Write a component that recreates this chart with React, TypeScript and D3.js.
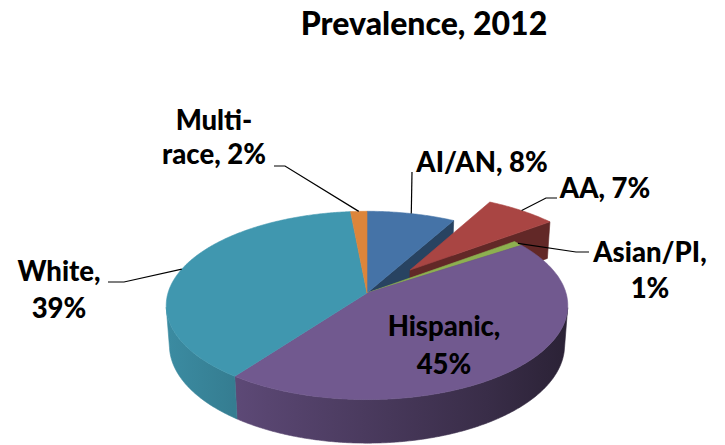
import React from 'react';
import * as d3 from 'd3';

// ---------- data ----------
const title = 'Prevalence, 2012';
const categories = ['AI/AN', 'AA', 'Asian/PI', 'Hispanic', 'White', 'Multi-race'];
const shares = [8.1, 6.7, 0.9, 44.6, 38.5, 1.5];
const percentLabels = ['8%', '7%', '1%', '45%', '39%', '2%'];
const explode = [0, 0.34, 0, 0, 0, 0];
const topColors = ['#4573A7', '#A94543', '#8DB050', '#71598F', '#4097AF', '#DD853A'];

// ---------- layout ----------
const W = 725;
const H = 445;
const CX = 367;
const CY = 293;
const S = 199;
const ALPHA = (27.7 * Math.PI) / 180;
const DIST = 6.7;
const DEPTH = 0.228;
const FONT = 'Lato, "Open Sans", sans-serif';
const FS = 27.5;

// label layout: centre x, first baseline, line height, line split, outer leader points
const labelLayout = [
  { x: 482, y: 172, lh: 37, lines: (c: string, p: string) => [`${c}, ${p}`], leader: [[412, 172]] },
  { x: 605, y: 198, lh: 37, lines: (c: string, p: string) => [`${c}, ${p}`], leader: [[557, 198], [546, 198]] },
  { x: 650, y: 262, lh: 36, lines: (c: string, p: string) => [`${c},`, p], leader: [[589, 252], [576, 252]] },
  { x: 444, y: 336, lh: 38, lines: (c: string, p: string) => [`${c},`, p], leader: null },
  { x: 59, y: 281, lh: 37, lines: (c: string, p: string) => [`${c},`, p], leader: [[108, 282], [124, 282]] },
  { x: 214, y: 130, lh: 34, lines: (c: string, p: string) => ['Multi-', `race, ${p}`], leader: [[274, 166], [285, 166]] },
];

function project(wx: number, wy: number, h: number): [number, number] {
  const Y = wy * Math.sin(ALPHA) - h * Math.cos(ALPHA);
  const Z = DIST - (wy * Math.cos(ALPHA) + h * Math.sin(ALPHA));
  const f = DIST / Z;
  return [CX + S * wx * f, CY + S * Y * f];
}

const cam = [0, DIST * Math.cos(ALPHA), DIST * Math.sin(ALPHA)];

function shade(c: string, k: number) {
  const r = d3.rgb(c);
  return d3.rgb(r.r * k, r.g * k, r.b * k).formatHex();
}

const pieGen = d3
  .pie<number>()
  .sort(null)
  .value((d) => d)
  .startAngle(0)
  .endAngle(2 * Math.PI);

const arcs = pieGen(shares);

function sliceGeom(i: number) {
  const a0 = arcs[i].startAngle;
  const a1 = arcs[i].endAngle;
  const mid = (a0 + a1) / 2;
  const e = explode[i];
  const ox = e * Math.sin(mid);
  const oy = -e * Math.cos(mid);
  const pt = (theta: number, r: number, h: number) =>
    project(r * Math.sin(theta) + ox, -r * Math.cos(theta) + oy, h);
  return { a0, a1, mid, ox, oy, pt };
}

function sample(a: number, b: number) {
  const n = Math.max(2, Math.ceil(((b - a) * 180) / Math.PI) * 2);
  return d3.range(n + 1).map((k) => a + ((b - a) * k) / n);
}

const line = d3.line();

function topPath(i: number) {
  const g = sliceGeom(i);
  const pts: [number, number][] = [g.pt(0, 0, 0), ...sample(g.a0, g.a1).map((t) => g.pt(t, 1, 0))];
  return line(pts) + 'Z';
}

function sideVisible(g: any, t: number) {
  const px = Math.sin(t) + g.ox;
  const py = -Math.cos(t) + g.oy;
  const nx = Math.sin(t);
  const ny = -Math.cos(t);
  return nx * (cam[0] - px) + ny * (cam[1] - py) > 0;
}

function sidePath(i: number) {
  const g = sliceGeom(i);
  const ts = sample(g.a0, g.a1).filter((t) => sideVisible(g, t));
  if (ts.length < 2) return null;
  const a = Math.max(g.a0, ts[0] - 0.02);
  const b = Math.min(g.a1, ts[ts.length - 1] + 0.02);
  const tt = sample(a, b);
  const pts: [number, number][] = [
    ...tt.map((t) => g.pt(t, 1, 0)),
    ...tt.slice().reverse().map((t) => g.pt(t, 1, -DEPTH)),
  ];
  return line(pts) + 'Z';
}

function faceVisible(g: any, t: number, sign: number) {
  const nx = sign * Math.cos(t);
  const ny = sign * Math.sin(t);
  const px = 0.5 * Math.sin(t) + g.ox;
  const py = -0.5 * Math.cos(t) + g.oy;
  return nx * (cam[0] - px) + ny * (cam[1] - py) > 0;
}

function facePath(i: number, t: number) {
  const g = sliceGeom(i);
  const pts: [number, number][] = [g.pt(0, 0, 0), g.pt(t, 1, 0), g.pt(t, 1, -DEPTH), g.pt(0, 0, -DEPTH)];
  return line(pts) + 'Z';
}

// radial faces that can be seen: only where a neighbour is exploded
function visibleFaces(i: number) {
  const n = shares.length;
  const g = sliceGeom(i);
  const res: string[] = [];
  const next = (i + 1) % n;
  const prev = (i + n - 1) % n;
  if ((explode[i] > 0 || explode[next] > 0) && faceVisible(g, g.a1, 1)) res.push(facePath(i, g.a1));
  if ((explode[i] > 0 || explode[prev] > 0) && faceVisible(g, g.a0, -1)) res.push(facePath(i, g.a0));
  return res;
}

function anchorPoint(i: number) {
  const g = sliceGeom(i);
  return g.pt(g.mid, 1, 0);
}

export default function App() {
  const idx = d3.range(shares.length);
  const exp = idx.filter((i) => explode[i] > 0);
  const flat = idx.filter((i) => explode[i] === 0);
  const xg = d3.scaleLinear().domain([0, 1]).range([CX - S, CX + S]);

  const renderSlice = (i: number, part: 'faces' | 'side' | 'top') => {
    if (part === 'faces') {
      return visibleFaces(i).map((d, k) => (
        <path key={`f${i}-${k}`} d={d} fill={shade(topColors[i], 0.58)} stroke={shade(topColors[i], 0.58)} strokeWidth={0.6} />
      ));
    }
    if (part === 'side') {
      const d = sidePath(i);
      return d ? <path key={`s${i}`} d={d} fill={`url(#side${i})`} stroke={`url(#side${i})`} strokeWidth={0.6} /> : null;
    }
    return <path key={`t${i}`} d={topPath(i)} fill={topColors[i]} stroke={topColors[i]} strokeWidth={0.6} />;
  };

  return (
    <svg width={W} height={H} style={{ position: 'absolute', left: 0, top: 0, background: '#fff' }}>
      <defs>
        {idx.map((i) => (
          <linearGradient key={i} id={`side${i}`} gradientUnits="userSpaceOnUse" x1={xg(0)} x2={xg(1)} y1={0} y2={0}>
            <stop offset="0" stopColor={shade(topColors[i], 0.92)} />
            <stop offset="0.25" stopColor={shade(topColors[i], 0.78)} />
            <stop offset="0.8" stopColor={shade(topColors[i], 0.5)} />
            <stop offset="1" stopColor={shade(topColors[i], 0.38)} />
          </linearGradient>
        ))}
      </defs>
      <rect width={W} height={H} fill="#fff" />
      <text x={424} y={35} textAnchor="middle" fontFamily={FONT} fontWeight={900} fontSize={32} fill="#000">
        {title}
      </text>
      <g>
        {flat.map((i) => renderSlice(i, 'faces'))}
        {exp.map((i) => renderSlice(i, 'faces'))}
        {exp.map((i) => renderSlice(i, 'side'))}
        {exp.map((i) => renderSlice(i, 'top'))}
        {flat.map((i) => renderSlice(i, 'side'))}
        {flat.map((i) => renderSlice(i, 'top'))}
      </g>
      <g>
        {idx.map((i) => {
          const L = labelLayout[i];
          if (!L.leader) return null;
          const pts = [...L.leader, anchorPoint(i)] as [number, number][];
          return <path key={`l${i}`} d={line(pts) as string} fill="none" stroke="#000" strokeWidth={1.2} />;
        })}
      </g>
      <g fontFamily={FONT} fontWeight={900} fontSize={FS} fill="#000" textAnchor="middle">
        {idx.map((i) => {
          const L = labelLayout[i];
          const lines = L.lines(categories[i], percentLabels[i]);
          return (
            <text key={`tx${i}`} x={L.x} y={L.y}>
              {lines.map((s, k) => (
                <tspan key={k} x={L.x} y={L.y + k * L.lh}>
                  {s}
                </tspan>
              ))}
            </text>
          );
        })}
      </g>
    </svg>
  );
}
